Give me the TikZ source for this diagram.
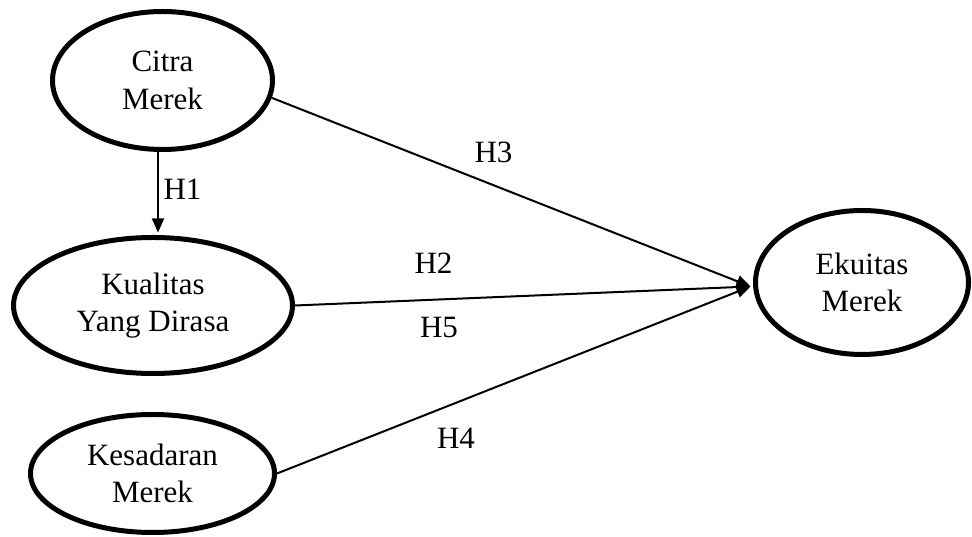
\documentclass[tikz,border=0pt]{standalone}
\usepackage{fontspec}
\setmainfont{Liberation Serif}
\usetikzlibrary{shapes.geometric,arrows.meta,calc}
\tikzset{
  construct/.style={ellipse, draw=black, line width=5pt, inner sep=0pt, align=center,
    font=\fontsize{31}{37.5}\selectfont},
  conn/.style={line width=2pt, -{Triangle[length=14pt,width=12pt]}},
  hlabel/.style={inner sep=0pt, font=\fontsize{31}{37.5}\selectfont}
}
\begin{document}
\begin{tikzpicture}[x=1pt,y=1pt]
\useasboundingbox (0,0) rectangle (972,537);
\node[construct, minimum width=220pt, minimum height=138pt] (citra) at (162.5,456.5) {Citra\\Merek};
\node[construct, minimum width=279pt, minimum height=136pt] (kualitas) at (153,231.5) {Kualitas\\Yang Dirasa};
\node[construct, minimum width=244pt, minimum height=118pt] (kesadaran) at (152.5,63.5) {Kesadaran\\Merek};
\node[construct, minimum width=213pt, minimum height=144pt] (ekuitas) at (862,254.5) {Ekuitas\\Merek};
\coordinate (tip) at ([xshift=-2.5pt,yshift=-4pt]ekuitas.west);
\draw[conn, shorten >=2.5pt] ([xshift=-4.5pt]citra.south) -- ([xshift=5pt]kualitas.north);
\draw[conn] (citra.-9) -- (tip);
\draw[conn] (kualitas.east) -- (tip);
\draw[conn] (kesadaran.east) -- (tip);
\node[hlabel] (h1) at (182.5,347.5) {H1};
\node[hlabel] (h3) at (493.5,384.5) {H3};
\node[hlabel] (h2) at (433.5,273.5) {H2};
\node[hlabel] (h5) at (439,209.5) {H5};
\node[hlabel] (h4) at (456,99) {H4};
\end{tikzpicture}
\end{document}
